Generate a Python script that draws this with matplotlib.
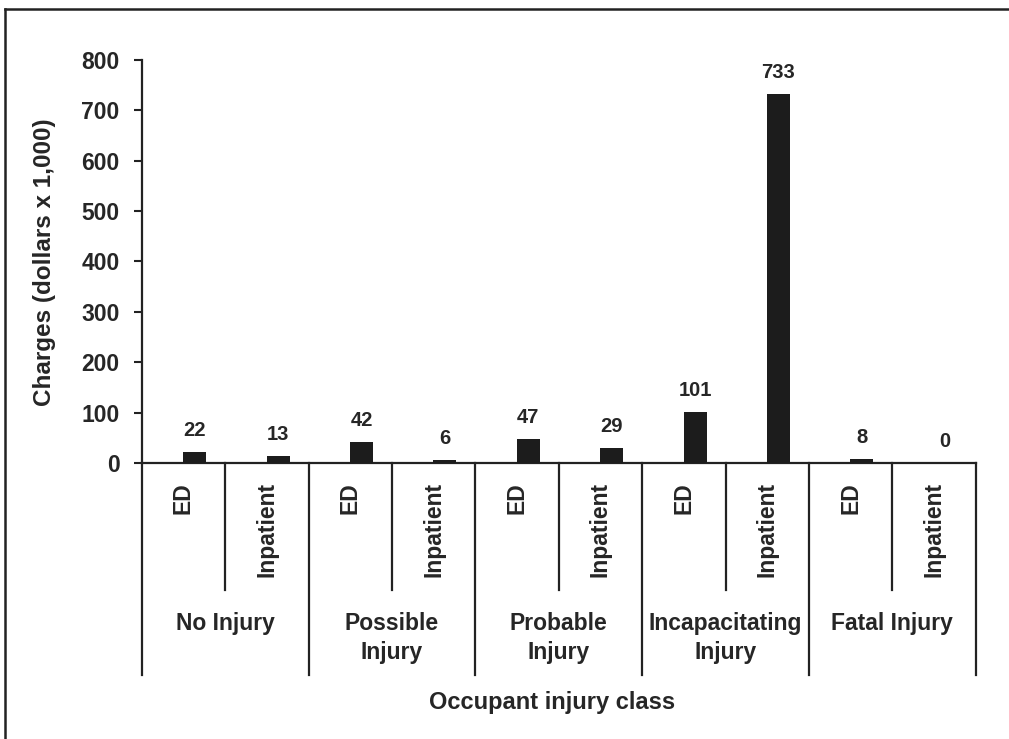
import matplotlib
matplotlib.use("Agg")
import matplotlib.pyplot as plt
from matplotlib.lines import Line2D

groups = ["No Injury", "Possible\nInjury", "Probable\nInjury", "Incapacitating\nInjury", "Fatal Injury"]
subcats = ["ED", "Inpatient"]
charges = [22, 13, 42, 6, 47, 29, 101, 733, 8, 0]
yticks = [0, 100, 200, 300, 400, 500, 600, 700, 800]

plt.rcParams['font.family'] = ['Liberation Sans', 'DejaVu Sans']
TXT = '#262626'
W, H = 1009, 739
fig = plt.figure(figsize=(W / 100, H / 100), dpi=100)
fig.patch.set_facecolor('white')

x0, x1 = 141.7, 975.7
y0, y1 = 463.0, 60.0
ax = fig.add_axes([x0 / W, (H - y0) / H, (x1 - x0) / W, (y0 - y1) / H])
n = len(charges)
ax.set_xlim(0, n)
ax.set_ylim(0, 800)
ax.set_yticks(yticks)
ax.set_yticklabels([str(v) for v in yticks], fontsize=16.5, fontweight='bold', color=TXT)
ax.tick_params(axis='y', direction='out', length=6, width=1.5, color='#222222', pad=10)
ax.set_xticks([])
for s in ['top', 'right']:
    ax.spines[s].set_visible(False)
ax.spines['left'].set_linewidth(1.6)
ax.spines['bottom'].set_linewidth(1.6)
ax.spines['left'].set_color('#222222')
ax.spines['bottom'].set_color('#222222')

pos = [i + 0.5 + 0.135 for i in range(n)]
ax.bar(pos, charges, width=0.275, color='#1c1c1c', zorder=3)
for p, v in zip(pos, charges):
    ax.text(p, v + 24, str(v), ha='center', va='bottom', fontsize=14.5, fontweight='bold', color=TXT)

tr = ax.get_xaxis_transform()
def ypx(py):
    return (y0 - py) / (y0 - y1)

# separators
for i in range(n + 1):
    if i % 2 == 0:
        yb = ypx(675)
    else:
        yb = ypx(590)
    ax.add_line(Line2D([i, i], [0, yb], transform=tr, color='#222222', lw=1.6, clip_on=False))

# sub labels
for i in range(n):
    ax.text(i + 0.5, ypx(482), subcats[i % 2], transform=tr, rotation=90, ha='center', va='top',
            fontsize=16.5, fontweight='bold', color=TXT)

# group labels
for g, name in enumerate(groups):
    ax.text(2 * g + 1, ypx(612), name, transform=tr, ha='center', va='top', fontsize=16.5,
            fontweight='bold', color=TXT, linespacing=1.35, multialignment='center')

fig.text(552 / W, 1 - 703 / H, "Occupant injury class", ha='center', va='center',
         fontsize=17, fontweight='bold', color=TXT)
fig.text(45 / W, 1 - 262 / H, "Charges (dollars x 1,000)", ha='center', va='center', rotation=90,
         fontsize=17.5, fontweight='bold', color=TXT)

# frame lines (top and left)
fig.add_artist(Line2D([5 / W, 1], [1 - 9 / H, 1 - 9 / H], transform=fig.transFigure, color='#222222', lw=1.8))
fig.add_artist(Line2D([5 / W, 5 / W], [0, 1 - 9 / H], transform=fig.transFigure, color='#222222', lw=1.8))

fig.savefig('out.png', dpi=100, facecolor='white')
